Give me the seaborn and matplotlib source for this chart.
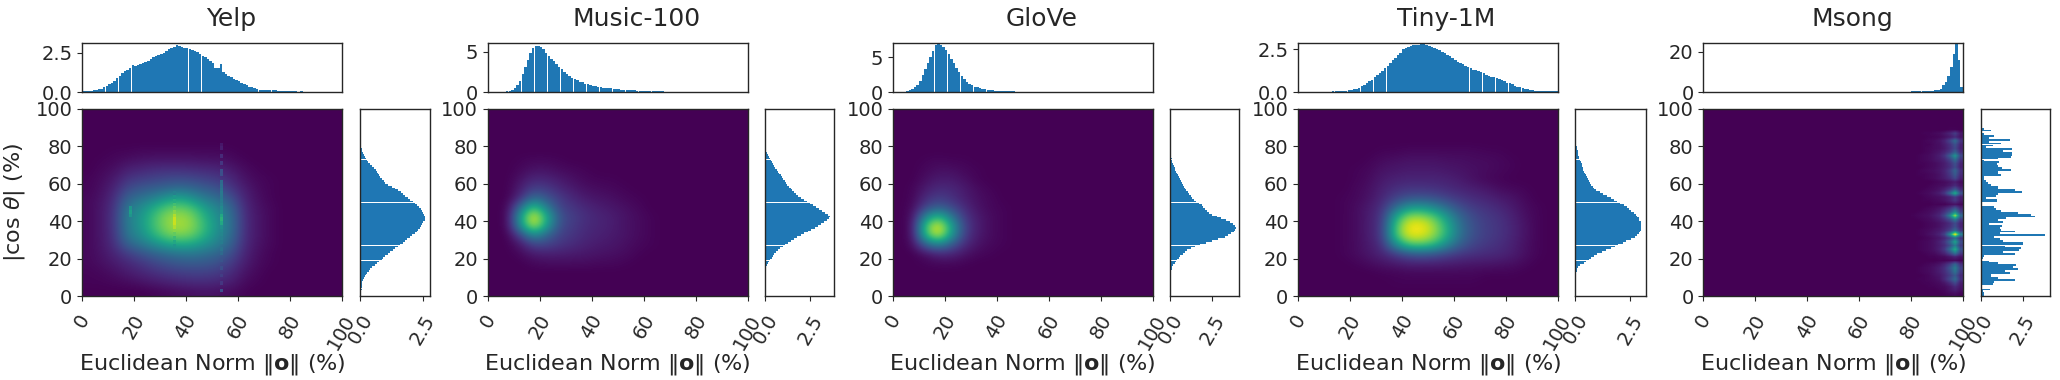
import numpy as np
import matplotlib
matplotlib.use("Agg")
import matplotlib.pyplot as plt
import seaborn as sns

titles = ["Yelp", "Music-100", "GloVe", "Tiny-1M", "Msong"]

yelp_top = [.05,.05,.05,.08,.1,.14,.17,.22,.3,.38,.48,.6,.72,.88,1.03,1.2,1.35,1.4,1.5,1.72,
 1.68,1.72,1.78,1.85,1.92,2.0,2.1,2.2,2.32,2.38,2.42,2.5,2.6,2.72,2.82,2.85,3.0,2.92,2.88,2.82,
 2.78,2.72,2.68,2.62,2.55,2.42,2.3,2.2,2.1,2.0,1.85,1.55,1.5,1.78,1.3,1.15,1.05,.95,.85,.75,
 .68,.55,.48,.42,.35,.3,.25,.2,.15,.13,.14,.12,.12,.1,.1,.08,.08,.07,.07,.06,.05,.05,.04,.03,.06,.02]
music_top = [0,0,0,0,0,.03,.05,.08,.15,.3,.5,.85,1.4,2.2,3.1,4.0,4.9,5.45,5.7,5.75,5.6,5.3,4.85,4.5,4.15,
 3.8,3.45,3.1,2.8,2.5,2.25,2.0,1.75,1.6,1.45,1.3,1.2,1.05,.95,.87,.8,.72,.67,.6,.55,.52,.48,.44,.4,.37,
 .34,.31,.28,.26,.23,.21,.2,.18,.16,.15,.14,.13,.12,.12,.11,.11,.1,.08,.06,.05,.03]
glove_top = [0,0,0,.03,.07,.15,.25,.4,.65,1.0,1.6,2.4,3.3,4.2,5.0,5.9,6.7,6.9,6.8,6.5,6.0,5.5,4.8,4.1,3.4,
 2.8,2.3,1.85,1.5,1.2,.95,.78,.65,.52,.44,.37,.3,.27,.24,.2,.17,.15,.13,.12,.1,.08,.08,.07,.06,.05,.03]
tiny_top = [0]*13 + [.04,.04,.05,.05,.05,.08,.1,.13,.17,.2,.26,.33,.42,.52,.62,.72,.85,.98,1.1,1.25,1.4,1.55,1.7,
 1.85,2.0,2.15,2.3,2.5,2.58,2.65,2.7,2.75,2.78,2.78,2.8,2.8,2.75,2.7,2.65,2.6,2.52,2.45,2.35,2.28,2.18,2.08,1.98,
 1.88,1.75,1.7,1.62,1.55,1.47,1.4,1.3,1.27,1.22,1.17,1.1,1.02,.95,.9,.85,.8,.75,.68,.62,.55,.5,.45,.38,.32,.28,
 .25,.2,.15,.12,.12,.08,.08,.05,.05,.04,.04,.03,.03,.03]
msong_top = [0]*74 + [.2,.2,.2,.2,.2,.2,.25,.3,.3,.3,.3,.3,.35,.4,.6,.9,1.2,1.6,3.5,5.0,8.0,12.4,19.0,23.8,15.8,2.5]

yelp_right = [.02,.03,.03,.05,.06,.07,.07,.08,.12,.15,.2,.22,.27,.33,.38,.45,.58,.68,.75,.85,.92,1.0,1.1,1.2,1.3,
 1.4,1.5,1.6,1.7,1.78,1.87,1.97,2.08,2.17,2.25,2.32,2.37,2.43,2.48,2.52,2.57,2.58,2.58,2.55,2.52,2.47,2.42,2.35,2.28,2.2,
 2.1,2.0,1.9,1.8,1.7,1.62,1.5,1.38,1.25,1.12,1.0,.95,.85,.8,.75,.72,.67,.62,.55,.48,.4,.32,.27,.22,.17,.13,.1,.07,.05,.02]
music_right = [0]*15 + [.05,.1,.15,.22,.28,.35,.42,.5,.6,.7,.82,.95,1.1,1.25,1.42,1.6,1.78,1.95,2.15,2.35,2.55,2.75,2.92,3.1,3.25,
 3.4,3.55,3.6,3.5,3.3,3.15,3.0,2.82,2.65,2.48,2.3,2.12,1.95,1.82,1.7,1.6,1.5,1.4,1.3,1.22,1.15,1.08,1.0,.92,.85,.78,.7,.62,.55,.48,.42,.36,.3,.24,.18,.14,.1,.06,.03]
glove_right = [0]*13 + [.03,.07,.12,.18,.25,.32,.4,.5,.6,.72,.85,1.0,1.2,1.45,1.75,2.1,2.45,2.85,3.25,3.45,3.6,3.75,3.85,3.9,3.85,3.7,
 3.55,3.3,3.0,2.75,2.5,2.3,2.15,2.05,1.95,1.85,1.7,1.55,1.4,1.3,1.2,1.12,1.02,.95,.87,.8,.72,.67,.62,.56,.5,.46,.4,.35,.3,.25,.2,.16,.12,.1,.07,.05]
tiny_right = [0]*11 + [.03,.05,.06,.07,.1,.2,.4,.5,.6,.72,.85,1.0,1.2,1.4,1.6,1.8,1.95,2.15,2.3,2.55,2.7,2.8,2.88,2.95,2.98,2.98,2.98,2.98,2.98,
 2.92,2.88,2.82,2.75,2.65,2.55,2.45,2.35,2.2,2.05,1.9,1.75,1.6,1.45,1.25,1.1,.95,.85,.78,.72,.66,.62,.58,.52,.47,.42,.4,.36,.33,.3,.28,.26,.22,.18,.15,.13,.12,.1,.08,.06,.05,.04,.03,.02]
msong_right = [.15,.15,.1,.55,.05,.05,.7,.75,2.0,1.0,.6,.6,1.7,1.4,2.2,1.9,2.1,1.0,.5,.05,.1,.2,2.0,1.3,2.25,2.4,1.4,2.5,2.5,1.3,
 1.1,.8,3.8,1.15,2.0,1.2,1.1,1.25,.5,1.3,1.0,1.5,3.2,2.95,2.2,1.2,.9,.8,0,.05,.95,.95,.3,.9,1.0,2.45,2.0,1.0,1.0,.6,
 .4,.3,.2,.2,1.2,1.0,1.0,1.8,1.25,1.0,.95,1.05,.2,1.0,1.8,1.85,1.85,1.3,1.85,.3,.7,1.2,.5,1.75,.5,.8,.2,0,.6,.15]

# Colour level (0-100) read per 5 % cell, row by row from the bottom; cells not listed stay at 0.
yelp_heat = [
 [0,0,0,0,0,1,2,3,4,5,4,3,1],
 [1,1,2,3,5,7,9,11,12,12,11,8,3,1],
 [1,2,4,7,10,13,16,18,19,19,17,12,5,2],
 [2,4,7,11,15,20,24,27,28,27,24,17,8,3,1],
 [2,5,10,17,24,30,35,38,39,36,32,23,10,4,1],
 [2,6,13,30,38,47,55,60,58,50,42,30,12,5,2],
 [2,6,15,39,48,63,76,80,76,62,47,35,13,6,2],
 [2,6,16,41,52,69,82,88,82,66,49,37,13,6,2],
 [2,6,16,42,52,68,82,86,80,62,48,36,13,6,2],
 [2,6,15,39,47,60,72,76,70,54,44,32,12,5,2],
 [2,5,13,31,37,43,52,58,50,40,35,24,10,4,1],
 [1,4,10,22,27,30,33,36,33,29,25,16,8,3,1],
 [1,3,7,15,18,20,22,23,22,19,17,11,5,2,1],
 [0,2,4,9,11,13,14,14,13,12,11,7,3,1],
 [0,1,2,4,5,6,6,6,6,5,5,3,1],
 [0,0,1,1,2,2,2,2,2,2,2,1],
]
music_heat = [
 [],[],[],
 [0,0,0,2,3,3,3,3,2,2,1],
 [0,0,2,7,8,8,7,6,5,4,3,1],
 [0,0,6,20,20,15,12,9,7,6,4,2,1],
 [0,0,20,48,32,19,15,11,9,7,5,3,1],
 [0,1,50,92,56,23,17,12,10,8,5,3,1],
 [0,1,56,100,62,25,18,13,10,8,5,3,1],
 [0,1,36,72,42,20,15,11,8,6,4,2],
 [0,0,13,36,26,17,11,7,5,4,2,1],
 [0,0,8,19,17,11,7,4,3,2,1],
 [0,0,5,11,10,7,4,2,1,1],
 [0,0,2,5,5,3,2,1],
 [0,0,1,2,2,1],
]
glove_heat = [
 [],[],[],
 [0,0,1,2,2,1],
 [0,0,4,10,10,5,2,1],
 [0,2,30,44,28,12,5,2,1],
 [0,3,66,95,54,18,7,3,1],
 [0,3,72,100,58,20,8,3,1],
 [0,3,46,68,40,16,7,3,1],
 [0,2,20,30,22,12,5,2,1],
 [0,1,12,18,14,8,4,2],
 [0,1,7,12,11,7,3,1],
 [0,0,4,7,7,4,1],
 [0,0,2,4,4,2,1],
 [0,0,1,2,1,1],
]
tiny_heat = [
 [],
 [0,0,0,0,0,0,0,1,1,1,1,1,1,1],
 [0,0,0,0,0,0,1,1,2,2,2,2,2,2,1,1,1],
 [0,0,0,0,1,3,5,7,9,9,9,8,7,6,6,5,4,2],
 [0,0,0,1,3,6,10,17,25,28,25,20,16,14,12,11,8,4,1],
 [0,0,0,1,3,7,14,48,72,74,66,46,29,20,16,13,9,4,1],
 [0,0,0,1,3,8,17,70,96,96,84,62,36,24,18,15,10,5,1],
 [0,0,0,1,3,8,17,70,98,100,85,62,36,24,18,15,10,5,1],
 [0,0,0,1,3,8,16,58,84,84,74,52,32,22,17,14,9,4,1],
 [0,0,0,1,3,7,14,34,52,54,46,34,23,17,14,11,7,3,1],
 [0,0,0,1,2,5,11,19,25,26,24,19,15,12,10,7,5,2],
 [0,0,0,0,2,4,9,13,15,15,14,12,10,8,6,3,2,1],
 [0,0,0,0,1,3,7,9,10,10,10,9,7,4,2,1],
 [0,0,0,0,1,2,5,6,7,7,7,6,5,4,3,2,1],
 [0,0,0,0,0,1,3,4,5,5,5,4,4,3,3,2,1],
 [0,0,0,0,0,0,1,1,2,2,2,2,2,2,1,1],
]
# Msong: right-hand strip 80-100 %, ten 2 % columns, rows 2 % tall from the bottom.
msong_strip = [
 [0,0,0,0,0,0,1,2,3,1],[0,0,0,0,0,1,2,5,8,4],[0,0,0,1,1,2,3,6,12,6],[0,0,1,1,2,3,6,12,22,8],
 [0,1,1,2,3,5,12,22,35,14],[0,0,1,2,4,6,11,18,28,12],[0,1,2,3,5,8,13,22,38,17],[0,1,2,3,5,8,14,26,42,20],
 [0,0,1,2,3,5,10,18,32,14],[0,0,0,0,0,1,1,2,3,1],[0,0,0,1,1,2,3,6,10,5],[0,0,1,2,3,6,11,22,40,18],
 [0,1,2,3,5,9,17,36,62,26],[0,1,2,3,5,8,13,24,42,18],[0,1,2,3,5,9,16,32,58,24],[0,0,1,2,4,6,11,20,34,14],
 [0,1,2,4,6,10,20,50,100,45],[0,1,2,3,5,7,12,20,36,16],[0,0,1,2,3,5,9,14,24,10],[0,0,1,2,3,5,8,13,23,10],
 [0,1,2,3,5,8,14,24,42,18],[1,2,3,4,7,11,22,45,85,35],[0,1,2,3,5,8,15,26,46,20],[0,0,1,2,3,5,9,15,26,11],
 [0,0,0,0,1,1,1,3,5,2],[0,0,1,1,2,3,5,9,16,7],[0,0,1,2,3,4,6,10,18,8],[0,1,2,3,5,8,16,34,62,26],
 [0,0,1,2,3,5,9,16,28,12],[0,0,0,1,2,3,4,7,12,5],[0,0,0,0,1,2,3,5,8,3],[0,0,1,2,3,5,8,13,22,9],
 [0,1,1,2,3,5,9,16,28,12],[0,1,2,3,4,6,10,18,32,14],[0,0,1,2,3,5,8,13,22,9],[0,1,1,2,3,5,8,14,25,10],
 [0,1,2,3,5,7,11,20,36,15],[0,1,2,3,5,8,15,30,52,22],[0,0,1,2,4,6,10,17,30,13],[0,0,1,2,3,4,7,13,22,9],
 [0,0,1,1,3,4,8,14,25,10],[0,0,1,2,3,5,10,20,35,15],[0,0,0,1,1,2,4,7,12,5],[0,0,1,1,2,3,6,10,18,6],
 [0,0,0,0,0,0,0,1,1,0],
]
# Yelp: narrow columns that stand out (dotted 53 %, ridge 35 %, spot 18 %), 2 % rows from the bottom; 0 = not drawn.
yelp_col53 = [0,24,0,16,0,18,0,24,0,26,0,34,38,0,42,44,46,48,50,60,64,60,50,48,44,42,40,40,38,36,34,0,24,24,0,16,0,12,0,8,6]
yelp_col35 = [0]*13 + [52,60,68,76,82,88,92,92,88,82,76,70,62,54,44]
yelp_col18 = [0]*21 + [52,56,52]

top_ylim = [3.15, 6.15, 7.1, 2.9, 24.7]
top_ticks = [[0, 2.5], [0, 5], [0, 5], [0, 2.5], [0, 20]]
top_labels = [["0.0", "2.5"], ["0", "5"], ["0", "5"], ["0.0", "2.5"], ["0", "20"]]
right_xlim = [2.78, 3.83, 4.1, 3.2, 4.1]
right_ticks = [0, 2.5]
right_labels = ["0.0", "2.5"]
heat_ticks = [0, 20, 40, 60, 80, 100]
x_label = r"Euclidean Norm $\|\mathbf{o}\|$ (%)"
y_label = r"$|\cos\,\theta|$ (%)"
bar_color = "#1f77b4"

# pixel layout: heat left/right, marginal left/right, title centre
heat_px = [(82.2, 341.5), (487.7, 747.7), (893.0, 1152.6), (1298.2, 1557.8), (1703.4, 1963.0)]
side_px = [(360.3, 429.8), (765.4, 834.4), (1170.4, 1239.4), (1575.4, 1645.6), (1981.0, 2050.0)]
title_px = [231.5, 636.5, 1041.5, 1446, 1852]
W, H = 2060, 380


def rect(x0, x1, y_top, y_bot):
    return [x0 / W, 1 - y_bot / H, (x1 - x0) / W, (y_bot - y_top) / H]


def pad100(v):
    return np.array(list(v) + [0] * (100 - len(v)), dtype=float)


def grid(rows):
    m = np.zeros((20, 20))
    for r, row in enumerate(rows):
        m[r, :len(row)] = row
    return m


def column(ax, x0, values):
    col = np.array(values + [0] * (50 - len(values)), dtype=float).reshape(-1, 1)
    ax.imshow(np.ma.masked_less(col, 1), origin="lower", extent=(x0, x0 + 1, 0, 100), aspect="auto",
              cmap="viridis", vmin=0, vmax=100, interpolation="nearest")


sns.set_style("ticks")
plt.rcParams.update({"font.family": "DejaVu Sans", "font.size": 14, "axes.linewidth": 1.0})
fig = plt.figure(figsize=(W / 100, H / 100), dpi=100)
centers = np.arange(100) + 0.5
tops = [yelp_top, music_top, glove_top, tiny_top, msong_top]
rights = [yelp_right, music_right, glove_right, tiny_right, msong_right]
heats = [yelp_heat, music_heat, glove_heat, tiny_heat, []]

for i in range(5):
    hx0, hx1 = heat_px[i]
    sx0, sx1 = side_px[i]
    ax = fig.add_axes(rect(hx0, hx1, 109, 296))
    axt = fig.add_axes(rect(hx0, hx1, 42.5, 92))
    axr = fig.add_axes(rect(sx0, sx1, 109, 296))

    ax.imshow(grid(heats[i]), origin="lower", extent=(0, 100, 0, 100), aspect="auto",
              cmap="viridis", vmin=0, vmax=100, interpolation="bicubic")
    if i == 4:
        ax.imshow(np.array(msong_strip + [[0] * 10] * 5, dtype=float), origin="lower",
                  extent=(80, 100, 0, 100), aspect="auto", cmap="viridis", vmin=0, vmax=100,
                  interpolation="bilinear")
    if i == 0:
        column(ax, 53, yelp_col53)
        column(ax, 35, yelp_col35)
        column(ax, 18, yelp_col18)
    ax.set_xlim(0, 100)
    ax.set_ylim(0, 100)
    ax.set_xticks(heat_ticks)
    ax.set_yticks(heat_ticks)
    ax.tick_params(axis="x", labelrotation=60, labelsize=14, pad=7.5)
    ax.tick_params(axis="y", labelsize=14)
    ax.set_xlabel(x_label, fontsize=16)
    ax.xaxis.set_label_coords(0.5, -0.30)
    ax.set_ylabel(y_label if i == 0 else "", fontsize=16)
    ax.yaxis.set_label_coords(-0.212, 0.5)

    sns.histplot(x=centers, weights=pad100(tops[i]), bins=100, binrange=(0, 100), ax=axt,
                 color=bar_color, alpha=1, linewidth=0, shrink=0.965)
    axt.set_xlim(0, 100)
    axt.set_ylim(0, top_ylim[i])
    axt.set_xticks([])
    axt.set_xlabel("")
    axt.set_ylabel("")
    axt.set_yticks(top_ticks[i])
    axt.set_yticklabels(top_labels[i], fontsize=14)

    sns.histplot(y=centers, weights=pad100(rights[i]), bins=100, binrange=(0, 100), ax=axr,
                 color=bar_color, alpha=1, linewidth=0, shrink=0.965)
    axr.set_ylim(0, 100)
    axr.set_xlim(0, right_xlim[i])
    axr.set_yticks([])
    axr.set_xlabel("")
    axr.set_ylabel("")
    axr.set_xticks(right_ticks)
    axr.set_xticklabels(right_labels, fontsize=14, rotation=60)
    axr.tick_params(axis="x", pad=7.5)

    fig.text(title_px[i] / W, 1 - 19 / H, titles[i], ha="center", va="center", fontsize=18)

fig.savefig("out.png", dpi=100)
